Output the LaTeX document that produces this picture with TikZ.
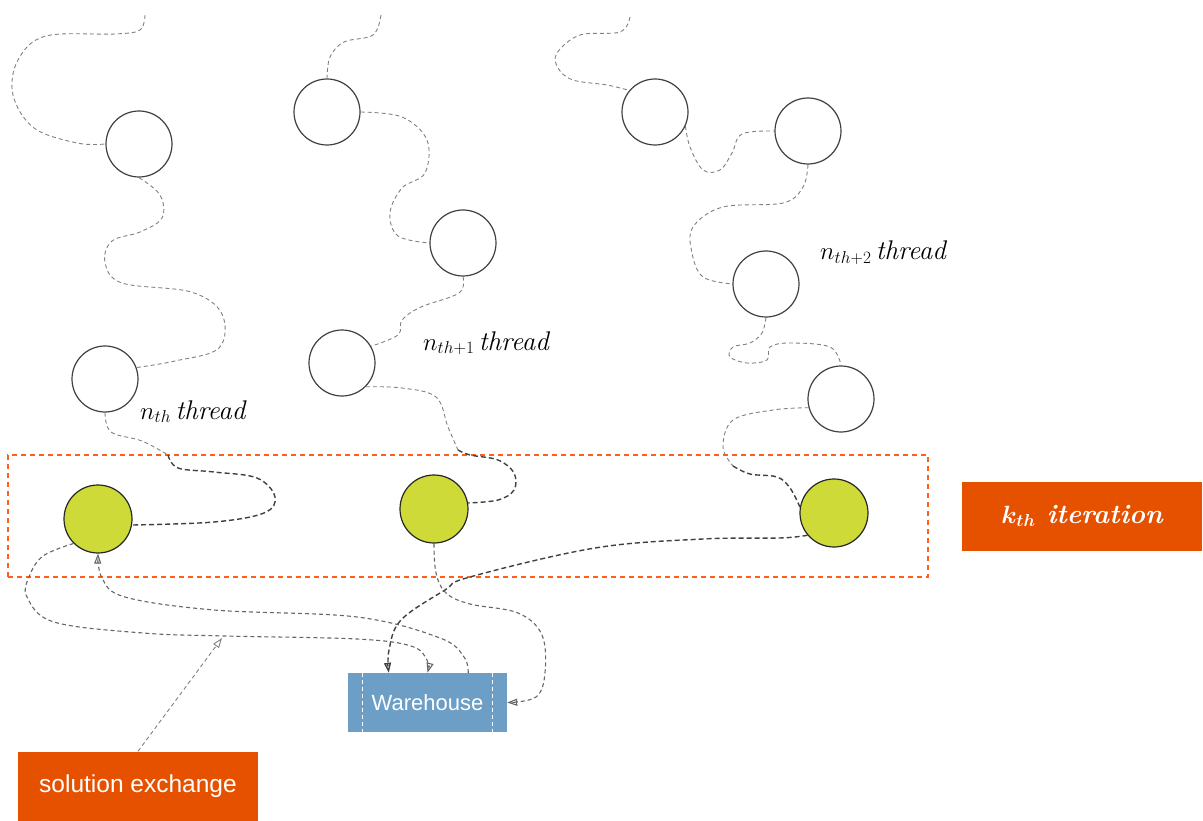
\documentclass[tikz,border=0pt]{standalone}
\usepackage{fontspec}
\newfontfamily\sansf{Liberation Sans}
\usetikzlibrary{arrows.meta}
\definecolor{ordeep}{RGB}{230,81,0}
\definecolor{ordash}{RGB}{255,95,30}
\definecolor{lime}{RGB}{205,218,55}
\definecolor{whblue}{RGB}{108,158,198}
\tikzset{
  thr/.style={circle,draw=black!75,line width=1.2pt,fill=white,minimum size=66pt,inner sep=0pt},
  grn/.style={circle,draw=black!85,line width=1.2pt,fill=lime,minimum size=68pt,inner sep=0pt},
  lite/.style={draw=black!50,line width=0.9pt,dash pattern=on 4pt off 3pt},
  dark/.style={draw=black!75,line width=1.4pt,dash pattern=on 5pt off 3pt},
  sm/.style={smooth,tension=0.6},
  tip/.style={-{Triangle[open,length=10pt,width=7pt]}},
  obox/.style={fill=ordeep,text=white,inner sep=0pt},
  lbl/.style={anchor=base west,inner sep=0pt,font=\fontsize{27}{30}\selectfont\itshape}
}
\begin{document}
\begin{tikzpicture}[x=1pt,y=-1pt]
\useasboundingbox (0,0) rectangle (1203,821);
% iteration frame
\node[draw=ordash,line width=1.3pt,dash pattern=on 5pt off 4pt,minimum width=920pt,minimum height=122pt,inner sep=0pt] (frame) at (468,516) {};
% thread n
\node[thr] (A1) at (139,144) {};
\node[thr] (A2) at (105,379) {};
\node[grn] (G1) at (98,519) {};
% thread n+1
\node[thr] (B1) at (327,112) {};
\node[thr] (B2) at (463,243) {};
\node[thr] (B3) at (342,363) {};
\node[grn] (G2) at (434,509) {};
% thread n+2
\node[thr] (C1) at (655,112) {};
\node[thr] (C2) at (808,131) {};
\node[thr] (C3) at (766,284) {};
\node[thr] (C4) at (841,399) {};
\node[grn] (G3) at (834,513) {};
% boxes
\node[obox,minimum width=240pt,minimum height=69pt,font=\fontsize{27}{30}\selectfont\bfseries\itshape] (K) at (1082,516) {{\boldmath$k_{th}$} iteration};
\node[obox,minimum width=240pt,minimum height=69pt,font=\sansf\fontsize{24.5}{28}\selectfont] (S) at (138,786) {solution exchange};
\node[fill=whblue,text=white,minimum width=159pt,minimum height=59pt,inner sep=0pt,font=\sansf\fontsize{22}{26}\selectfont] (W) at (427.5,702.5) {Warehouse};
\draw[white,line width=0.8pt,dash pattern=on 4pt off 3pt] ([xshift=15pt]W.north west) -- ([xshift=15pt]W.south west);
\draw[white,line width=0.8pt,dash pattern=on 4pt off 3pt] ([xshift=-15pt]W.north east) -- ([xshift=-15pt]W.south east);
% labels
\node[lbl] (L1) at (140,419) {$n_{th}$\,thread};
\node[lbl] (L2) at (423,350) {$n_{th+1}$\,thread};
\node[lbl] (L3) at (820,260) {$n_{th+2}$\,thread};
% free ends
\coordinate (t1s) at (145,15);
\coordinate (t2s) at (381,15);
\coordinate (t3s) at (630,17);
\coordinate (sx) at (222,638);
% thread n
\draw[lite] plot[sm] coordinates {(t1s) (140,30) (115,34) (46,36) (18,60) (13,95) (34,128) (77,143) (A1.west)};
\draw[lite] plot[sm] coordinates {(A1.south) (160,195) (162,218) (140,232) (112,241) (105,262) (122,283) (191,292) (222,314) (219,348) (175,361) (A2.20)};
\draw[lite] plot[sm] coordinates {(A2.south) (111,432) (142,441) (168,455)};
\draw[dark] plot[sm] coordinates {(168,455) (178,468) (214,472) (257,478) (275,497) (264,513) (214,522) (G1.-10)};
% thread n+1
\draw[lite] plot[sm] coordinates {(t2s) (373,35) (344,42) (330,57) (B1.north)};
\draw[lite] plot[sm] coordinates {(B1.east) (402,117) (427,140) (425,173) (402,188) (390,213) (398,236) (B2.west)};
\draw[lite] plot[sm] coordinates {(B2.south) (459,293) (421,307) (402,320) (398,335) (B3.30)};
\draw[lite] plot[sm] coordinates {(B3.-45) (402,388) (436,397) (448,427) (458,450)};
\draw[dark] plot[sm] coordinates {(458,450) (470,455) (498,460) (514,473) (514,490) (498,500) (G2.10)};
% thread n+2
\draw[lite] plot[sm] coordinates {(t3s) (620,32) (580,35) (557,53) (558,68) (573,80) (607,85) (C1.140)};
\draw[lite] plot[sm] coordinates {(C1.-25) (690,147) (703,170) (720,170) (732,153) (742,134) (C2.west)};
\draw[lite] plot[sm] coordinates {(C2.south) (803,187) (783,203) (723,207) (693,227) (692,253) (703,277) (C3.west)};
\draw[lite] plot[sm] coordinates {(C3.south) (762,333) (750,343) (733,347) (730,357) (747,363) (767,360) (770,347) (790,343) (830,347) (C4.north)};
\draw[lite] plot[sm] coordinates {(C4.195) (773,410) (733,420) (723,447) (733,466)};
\draw[dark] plot[sm] coordinates {(733,466) (750,474) (777,477) (790,488) (G3.170)};
% exchange connectors
\draw[dark,tip] plot[sm] coordinates {(G3.-140) (780,538) (703,539) (595,548) (470,577) (445,590) (401,620) (389,650) ([xshift=41pt]W.north west)};
\draw[lite,draw=black!60,line width=1.1pt,tip] plot[sm] coordinates {(G1.-135) (43,556) (29,577) (27,597) (54,622) (143,633) (225,636) (357,639) (411,646) (427,660) (W.north)};
\draw[lite,draw=black!60,line width=1.1pt,tip] plot[sm] coordinates {([xshift=-39pt]W.north east) (464,657) (440,638) (357,617) (214,610) (125,597) (102,578) (G1.south)};
\draw[lite,draw=black!60,line width=1.1pt,tip] plot[sm] coordinates {(G2.south) (436,573) (446,593) (470,604) (518,613) (542,635) (545,673) (536,697) (W.east)};
\draw[lite,tip] (S.north) -- (sx);
\end{tikzpicture}
\end{document}
